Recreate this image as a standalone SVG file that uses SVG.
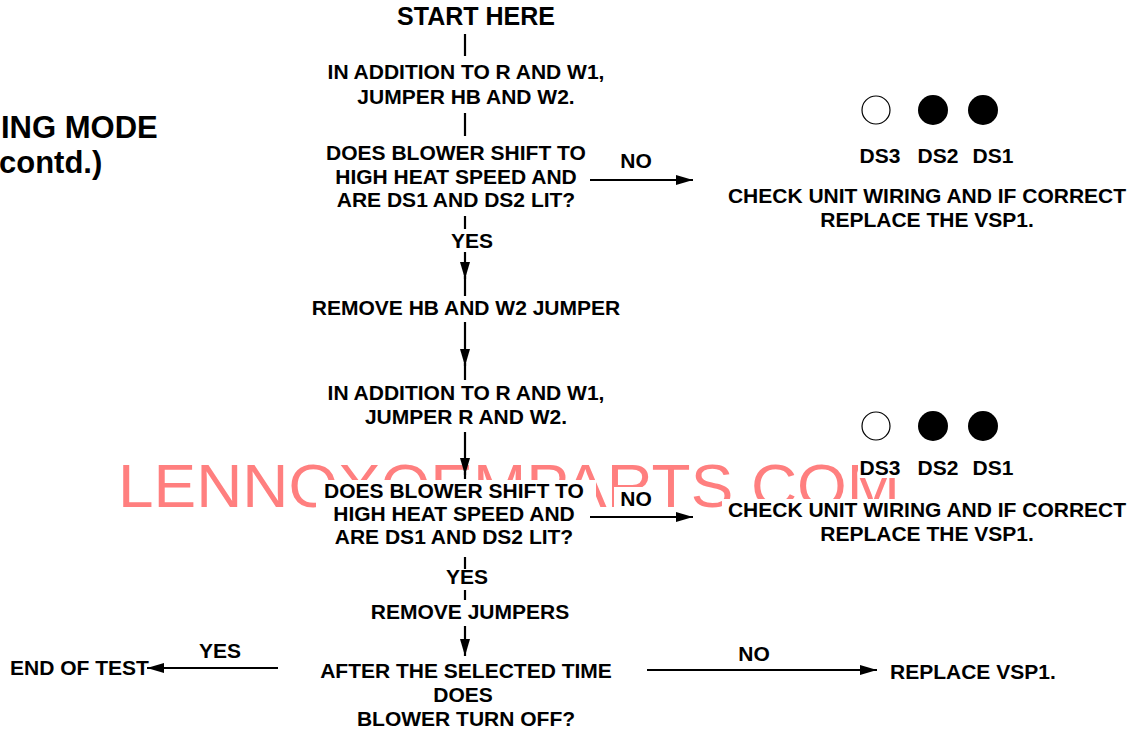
<svg xmlns="http://www.w3.org/2000/svg" width="1142" height="729" viewBox="0 0 1142 729">
<style>
text{font-family:"Liberation Sans",Arial,Helvetica,sans-serif;font-weight:bold;fill:#000;font-size:21px}
.c{text-anchor:middle}
.big{font-size:25px}
.title{font-size:31px}
.wm{font-family:"Liberation Sans",Arial,sans-serif;font-weight:normal;font-size:62px;fill:#ff7f7f}
.ln{stroke:#000;stroke-width:2.2;fill:none}
.bg{fill:#fff}
</style>
<defs>
<marker id="ah" markerUnits="userSpaceOnUse" markerWidth="18" markerHeight="11" refX="17" refY="5.5" orient="auto">
<path d="M0,0.5 L17,5.5 L0,10.5 Z" fill="#000"/>
</marker>
</defs>
<rect width="1142" height="729" fill="#fff"/>
<g id="watermark">
<text class="wm" x="118" y="507" textLength="782" lengthAdjust="spacingAndGlyphs">LENNOXOEMPARTS.COM</text>
<rect class="bg" x="316" y="480" width="280" height="76"/>
<rect class="bg" x="614" y="487" width="46" height="23"/>
<rect class="bg" x="722" y="499" width="410" height="48"/>
<rect class="bg" x="858" y="456" width="42" height="22"/>
</g>
<g id="title">
<text class="title" x="1" y="138">ING MODE</text>
<text class="title" x="-1" y="173">contd.)</text>
</g>
<g id="connectors">
<line class="ln" x1="465" y1="34" x2="465" y2="56"/>
<line class="ln" x1="465" y1="113" x2="465" y2="136"/>
<line class="ln" x1="590" y1="180" x2="693" y2="180" marker-end="url(#ah)"/>
<line class="ln" x1="465" y1="216" x2="465" y2="229"/>
<line class="ln" x1="465" y1="252" x2="465" y2="279" marker-end="url(#ah)"/>
<line class="ln" x1="465" y1="276" x2="465" y2="296"/>
<line class="ln" x1="465" y1="322" x2="465" y2="366" marker-end="url(#ah)"/>
<line class="ln" x1="465" y1="363" x2="465" y2="380"/>
<line class="ln" x1="465" y1="432" x2="465" y2="475" marker-end="url(#ah)"/>
<line class="ln" x1="465" y1="472" x2="465" y2="479"/>
<line class="ln" x1="590" y1="517" x2="693" y2="517" marker-end="url(#ah)"/>
<line class="ln" x1="465" y1="557" x2="465" y2="569"/>
<line class="ln" x1="465" y1="590" x2="465" y2="600"/>
<line class="ln" x1="465" y1="626" x2="465" y2="656" marker-end="url(#ah)"/>
<line class="ln" x1="278" y1="668" x2="147" y2="668" marker-end="url(#ah)"/>
<line class="ln" x1="647" y1="670" x2="877" y2="670" marker-end="url(#ah)"/>
</g>
<g id="start"><text class="c big" x="476" y="25">START HERE</text></g>
<g id="jumper1">
<text class="c" x="466" y="79">IN ADDITION TO R AND W1,</text>
<text class="c" x="466" y="104">JUMPER HB AND W2.</text>
</g>
<g id="decision1">
<text class="c" x="456" y="160">DOES BLOWER SHIFT TO</text>
<text class="c" x="456" y="184">HIGH HEAT SPEED AND</text>
<text class="c" x="456" y="207">ARE DS1 AND DS2 LIT?</text>
</g>
<g id="label-no1"><text class="c" x="636" y="168">NO</text></g>
<g id="label-yes1"><text class="c" x="472" y="248">YES</text></g>
<g id="leds1">
<circle cx="876" cy="110" r="14" fill="#fff" stroke="#000" stroke-width="1.2"/>
<circle cx="933" cy="110" r="15" fill="#000"/>
<circle cx="983" cy="110" r="15" fill="#000"/>
<text class="c" x="880" y="163">DS3</text>
<text class="c" x="938" y="163">DS2</text>
<text class="c" x="993" y="163">DS1</text>
</g>
<g id="check1">
<text class="c" x="927" y="203">CHECK UNIT WIRING AND IF CORRECT</text>
<text class="c" x="927" y="227">REPLACE THE VSP1.</text>
</g>
<g id="remove1"><text class="c" x="466" y="315">REMOVE HB AND W2 JUMPER</text></g>
<g id="jumper2">
<text class="c" x="466" y="400">IN ADDITION TO R AND W1,</text>
<text class="c" x="466" y="424">JUMPER R AND W2.</text>
</g>
<g id="decision2">
<text class="c" x="454" y="498">DOES BLOWER SHIFT TO</text>
<text class="c" x="454" y="521">HIGH HEAT SPEED AND</text>
<text class="c" x="454" y="544">ARE DS1 AND DS2 LIT?</text>
</g>
<g id="label-no2"><text class="c" x="636" y="506">NO</text></g>
<g id="leds2">
<circle cx="876" cy="426" r="14" fill="#fff" stroke="#000" stroke-width="1.2"/>
<circle cx="933" cy="426" r="15" fill="#000"/>
<circle cx="983" cy="426" r="15" fill="#000"/>
<text class="c" x="880" y="475">DS3</text>
<text class="c" x="938" y="475">DS2</text>
<text class="c" x="993" y="475">DS1</text>
</g>
<g id="check2">
<text class="c" x="927" y="517">CHECK UNIT WIRING AND IF CORRECT</text>
<text class="c" x="927" y="541">REPLACE THE VSP1.</text>
</g>
<g id="label-yes2"><text class="c" x="467" y="584">YES</text></g>
<g id="remove2"><text class="c" x="470" y="619">REMOVE JUMPERS</text></g>
<g id="decision3">
<text class="c" x="466" y="678">AFTER THE SELECTED TIME</text>
<text class="c" x="463" y="702">DOES</text>
<text class="c" x="466" y="726">BLOWER TURN OFF?</text>
</g>
<g id="label-yes3"><text class="c" x="220" y="658">YES</text></g>
<g id="end"><text x="10" y="675">END OF TEST</text></g>
<g id="label-no3"><text class="c" x="754" y="661">NO</text></g>
<g id="replace"><text x="890" y="679">REPLACE VSP1.</text></g>
</svg>
